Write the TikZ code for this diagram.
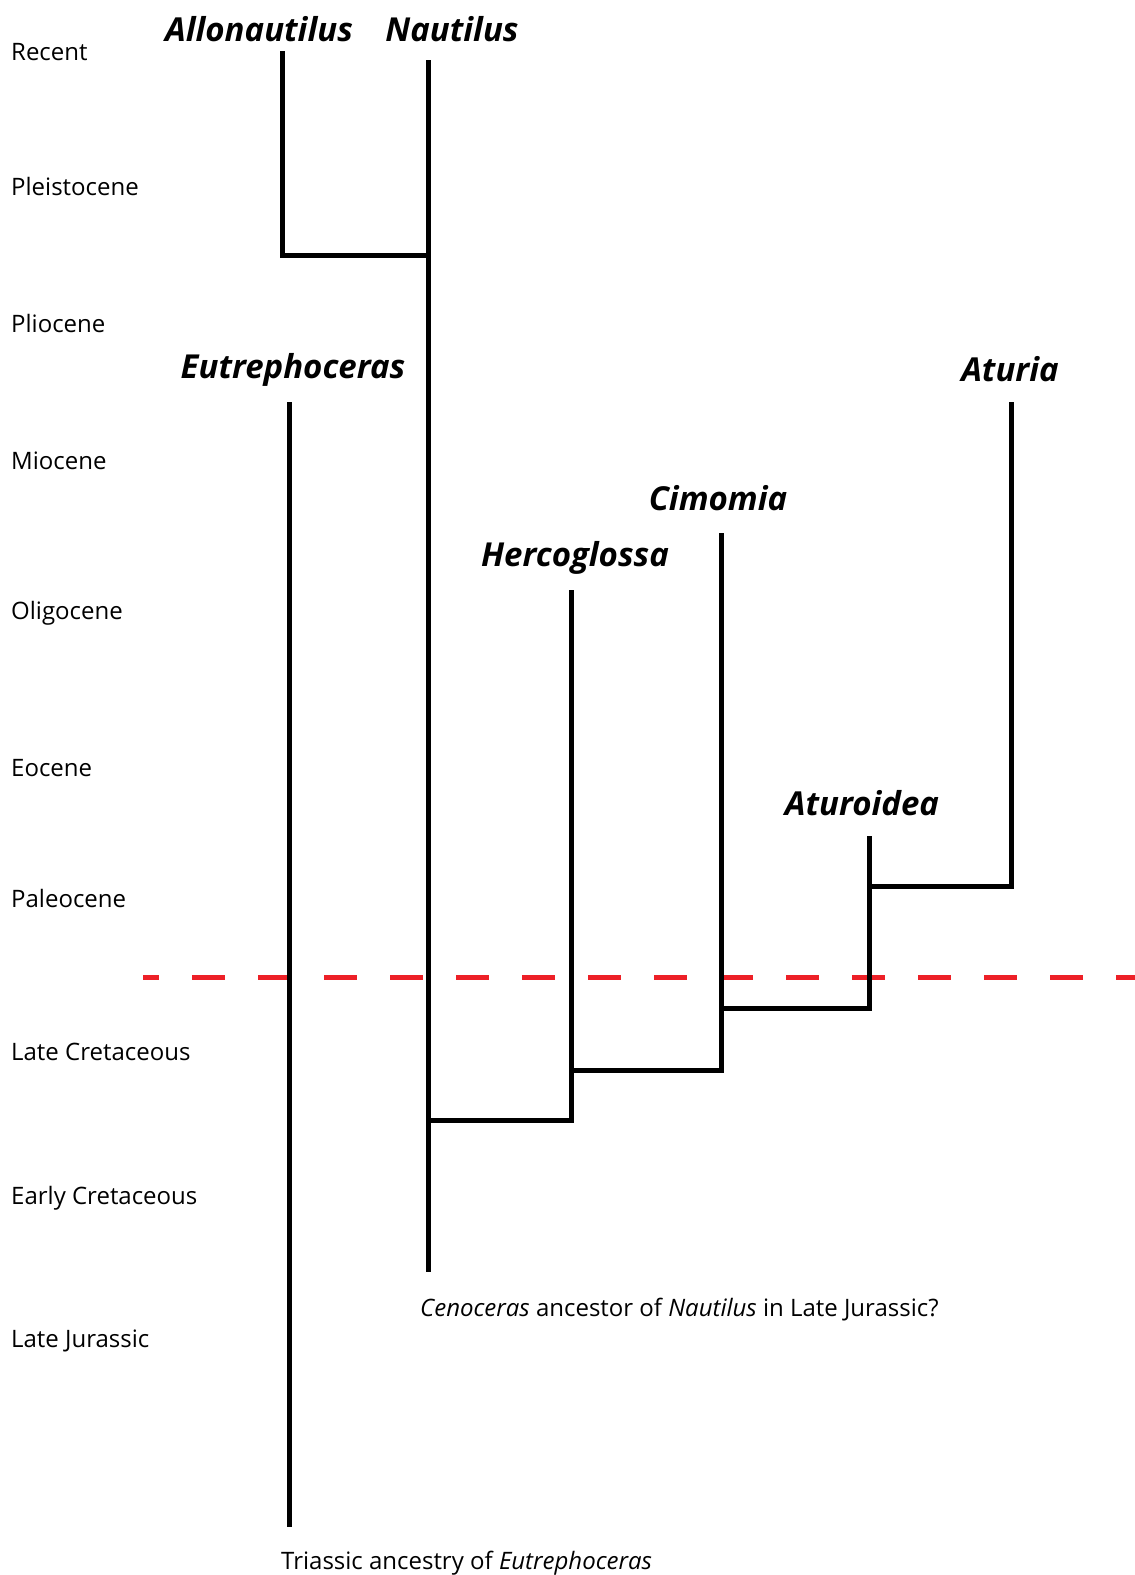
\documentclass[tikz,border=0pt]{standalone}
\usepackage{fontspec}
\setmainfont{Open Sans}
\definecolor{cutred}{RGB}{237,32,39}
\begin{document}
\begin{tikzpicture}[x=1pt,y=-1pt,
  branch/.style={line width=5pt, line join=miter, line cap=butt},
  epoch/.style={anchor=base west, inner sep=0pt, font=\fontsize{24}{28}\selectfont},
  taxon/.style={anchor=base, inner sep=0pt, font=\fontsize{33}{38}\selectfont\bfseries\itshape},
  note/.style={anchor=base west, inner sep=0pt, font=\fontsize{24}{28}\selectfont},
  boundary/.style={line width=5pt, cutred, dash pattern=on 33pt off 33pt, dash phase=17pt}]
\useasboundingbox (0,0) rectangle (1135,1575);
\fill[white] (0,0) rectangle (1135,1575);
% epoch labels
\node[epoch] (recent) at (11,60) {Recent};
\node[epoch] (pleist) at (11,195) {Pleistocene};
\node[epoch] (plio) at (11,332) {Pliocene};
\node[epoch] (mio) at (11,469) {Miocene};
\node[epoch] (oligo) at (11,619) {Oligocene};
\node[epoch] (eo) at (11,776) {Eocene};
\node[epoch] (paleo) at (11,907) {Paleocene};
\node[epoch] (lcret) at (11,1060) {Late Cretaceous};
\node[epoch] (ecret) at (11,1204) {Early Cretaceous};
\node[epoch] (ljur) at (11,1347) {Late Jurassic};
% taxon labels
\node[taxon] (allo) at (259,41) {Allonautilus};
\node[taxon] (naut) at (452,41) {Nautilus};
\node[taxon] (eutr) at (293,378) {Eutrephoceras};
\node[taxon] (atur) at (1010,381) {Aturia};
\node[taxon] (cimo) at (718,510) {Cimomia};
\node[taxon] (herc) at (575,566) {Hercoglossa};
\node[taxon] (aturo) at (862,815) {Aturoidea};
% notes
\node[note] (ceno) at (420,1316) {\itshape Cenoceras\upshape{} ancestor of \itshape Nautilus\upshape{} in Late Jurassic?};
\node[note] (trias) at (281,1569) {Triassic ancestry of \itshape Eutrephoceras};
% K-Pg boundary
\coordinate (kpgL) at (143,977);
\coordinate (kpgR) at (1135,977);
\draw[boundary] (kpgL) -- (kpgR);
% tree coordinates
\coordinate (alloTip) at (282,51);
\coordinate (alloJ) at (282,255);
\coordinate (nautTip) at (428,60);
\coordinate (nautJ1) at (428,255);
\coordinate (nautJ2) at (428,1120);
\coordinate (nautBase) at (428,1272);
\coordinate (eutrTip) at (289,402);
\coordinate (eutrBase) at (289,1527);
\coordinate (hercTip) at (571,590);
\coordinate (hercJ) at (571,1120);
\coordinate (hercJ2) at (571,1070);
\coordinate (cimoTip) at (721,533);
\coordinate (cimoJ) at (721,1070);
\coordinate (cimoJ2) at (721,1008);
\coordinate (aturoTip) at (869,836);
\coordinate (aturoJ) at (869,1008);
\coordinate (aturoJ2) at (869,886);
\coordinate (aturTip) at (1011,402);
\coordinate (aturJ) at (1011,886);
% branches
\draw[branch] (alloTip) -- (alloJ) -- (nautJ1);
\draw[branch] (nautTip) -- (nautBase);
\draw[branch] (eutrTip) -- (eutrBase);
\draw[branch] (nautJ2) -- (hercJ) -- (hercTip);
\draw[branch] (hercJ2) -- (cimoJ) -- (cimoTip);
\draw[branch] (cimoJ2) -- (aturoJ) -- (aturoTip);
\draw[branch] (aturoJ2) -- (aturJ) -- (aturTip);
\end{tikzpicture}
\end{document}
